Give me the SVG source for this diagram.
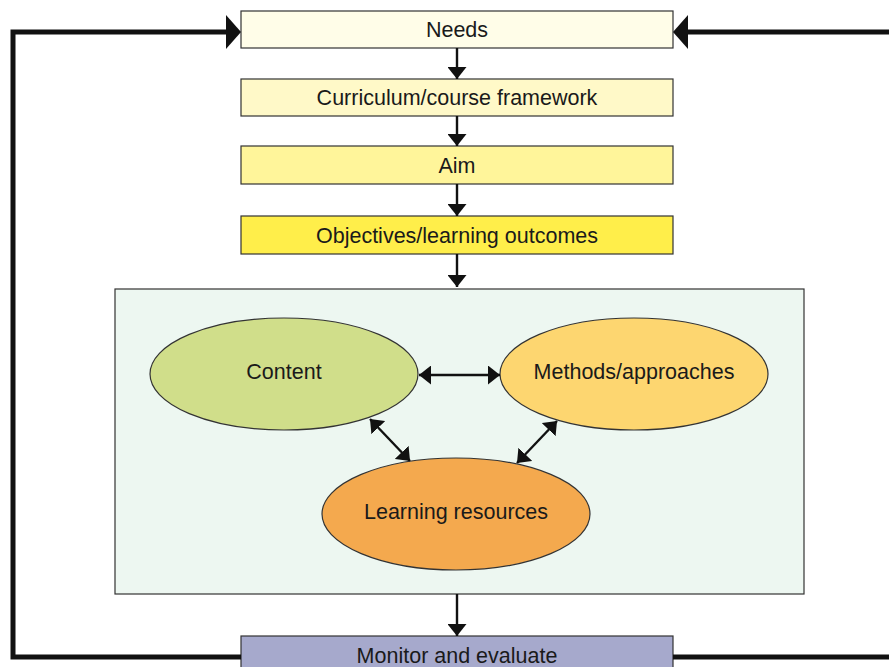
<svg xmlns="http://www.w3.org/2000/svg" width="889" height="667" viewBox="0 0 889 667">
<defs>
<marker id="ahs" viewBox="0 0 10 10" preserveAspectRatio="none" refX="10" refY="5" markerWidth="12" markerHeight="19" markerUnits="userSpaceOnUse" orient="auto-start-reverse">
<path d="M0,0 L10,5 L0,10 z" fill="#111"/>
</marker>
</defs>
<style>
.box{stroke:#333;stroke-width:1.2}
.t{font-family:"Liberation Sans",Arial,sans-serif;font-size:21.5px;fill:#1a1a1a;text-anchor:middle;dominant-baseline:central}
.c{stroke:#111;stroke-width:2.4;fill:none}
.loop{stroke:#111;stroke-width:5;fill:none}
</style>
<rect width="889" height="667" fill="#fff"/>
<g id="needs"><rect class="box" x="241" y="11" width="432" height="37" fill="#FFFDE8"/><text class="t" x="457" y="30">Needs</text></g>
<g id="curriculum"><rect class="box" x="241" y="79" width="432" height="37" fill="#FFF9C8"/><text class="t" x="457" y="98">Curriculum/course framework</text></g>
<g id="aim"><rect class="box" x="241" y="146" width="432" height="38" fill="#FFF59A"/><text class="t" x="457" y="166">Aim</text></g>
<g id="objectives"><rect class="box" x="241" y="216" width="432" height="38" fill="#FFEE4A"/><text class="t" x="457" y="236">Objectives/learning outcomes</text></g>
<g id="container"><rect class="box" x="115" y="289" width="689" height="305" fill="#EDF7F1"/></g>
<g id="content"><ellipse class="box" cx="284" cy="374" rx="134" ry="56" fill="#D0DE8A"/><text class="t" x="284" y="372">Content</text></g>
<g id="methods"><ellipse class="box" cx="634" cy="374" rx="134" ry="56" fill="#FDD670"/><text class="t" x="634" y="372">Methods/approaches</text></g>
<g id="resources"><ellipse class="box" cx="456" cy="514" rx="134" ry="56" fill="#F4A94E"/><text class="t" x="456" y="512">Learning resources</text></g>
<g id="monitor"><rect class="box" x="241" y="636" width="432" height="40" fill="#A6A9CC"/><text class="t" x="457" y="656">Monitor and evaluate</text></g>
<g id="connectors">
<path class="loop" d="M241,657 H13 V32 H228"/>
<path class="loop" d="M889,32 H688"/>
<path class="loop" d="M673,657 H889"/>
<path d="M241,32 L226,15 L226,49 z" fill="#111"/>
<path d="M673,32 L688,15 L688,49 z" fill="#111"/>
<line class="c" x1="457" y1="48" x2="457" y2="79" marker-end="url(#ahs)"/>
<line class="c" x1="457" y1="116" x2="457" y2="146" marker-end="url(#ahs)"/>
<line class="c" x1="457" y1="184" x2="457" y2="216" marker-end="url(#ahs)"/>
<line class="c" x1="457" y1="254" x2="457" y2="287" marker-end="url(#ahs)"/>
<line class="c" x1="457" y1="594" x2="457" y2="636" marker-end="url(#ahs)"/>
<line class="c" x1="419" y1="375" x2="500" y2="375" marker-start="url(#ahs)" marker-end="url(#ahs)"/>
<line class="c" x1="370" y1="419" x2="410" y2="461" marker-start="url(#ahs)" marker-end="url(#ahs)"/>
<line class="c" x1="557" y1="421" x2="517" y2="463" marker-start="url(#ahs)" marker-end="url(#ahs)"/>
</g>
</svg>
